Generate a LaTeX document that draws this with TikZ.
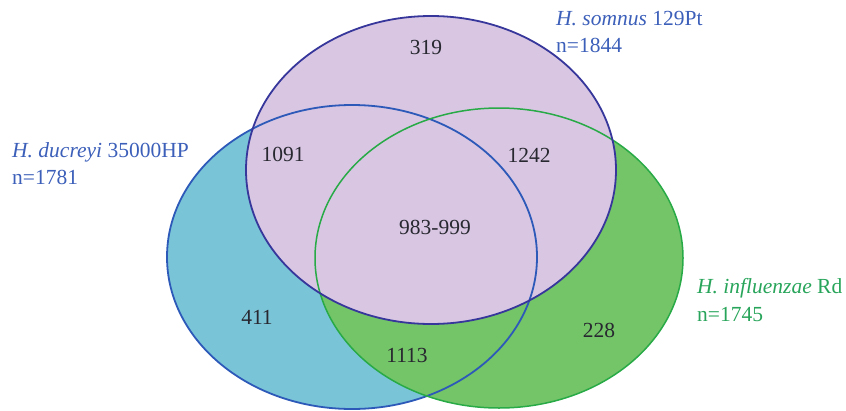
\documentclass[tikz,border=0pt]{standalone}
\usepackage{fontspec}
\setmainfont{Liberation Serif}
\definecolor{pfill}{RGB}{216,198,227}
\definecolor{bfill}{RGB}{122,196,216}
\definecolor{gfill}{RGB}{116,196,104}
\definecolor{pline}{RGB}{55,55,155}
\definecolor{bline}{RGB}{45,90,185}
\definecolor{gline}{RGB}{40,170,70}
\definecolor{btext}{RGB}{60,95,185}
\definecolor{gtext}{RGB}{40,165,90}
\definecolor{ntext}{RGB}{40,40,48}
\begin{document}
\begin{tikzpicture}[x=1pt,y=-1pt,
  num/.style={font=\fontsize{21.5}{24}\selectfont, text=ntext, inner sep=0pt, anchor=center},
  lab/.style={font=\fontsize{21.5}{24}\selectfont, inner sep=0pt, anchor=base west},
  edge/.style={line width=1.8pt}]
\useasboundingbox (0,0) rectangle (846,410);
% fills
\fill[bfill] (352,257) ellipse [x radius=185, y radius=152];
\fill[gfill] (499,258) ellipse [x radius=184, y radius=150];
\fill[pfill] (431,170) ellipse [x radius=185, y radius=154];
% borders
\draw[edge, bline] (352,257) ellipse [x radius=185, y radius=152];
\draw[edge, gline, line width=1.5pt] (499,258) ellipse [x radius=184, y radius=150];
\draw[edge, pline] (431,170) ellipse [x radius=185, y radius=154];
% labels
\node[lab, text=btext] (dl1) at (12,157) {\textit{H. ducreyi} 35000HP};
\node[lab, text=btext] (dl2) at (12,184) {n=1781};
\node[lab, text=btext] (sl1) at (556,25) {\textit{H. somnus} 129Pt};
\node[lab, text=btext] (sl2) at (556,52) {n=1844};
\node[lab, text=gtext] (il1) at (697,293) {\textit{H. influenzae} Rd};
\node[lab, text=gtext] (il2) at (697,321) {n=1745};
% numbers
\node[num] (n319) at (426,47) {319};
\node[num] (n1091) at (283,154) {1091};
\node[num] (n1242) at (529,155) {1242};
\node[num] (n983) at (435,227) {983-999};
\node[num] (n411) at (257,317) {411};
\node[num] (n228) at (599,330) {228};
\node[num] (n1113) at (407,355) {1113};
\end{tikzpicture}
\end{document}
